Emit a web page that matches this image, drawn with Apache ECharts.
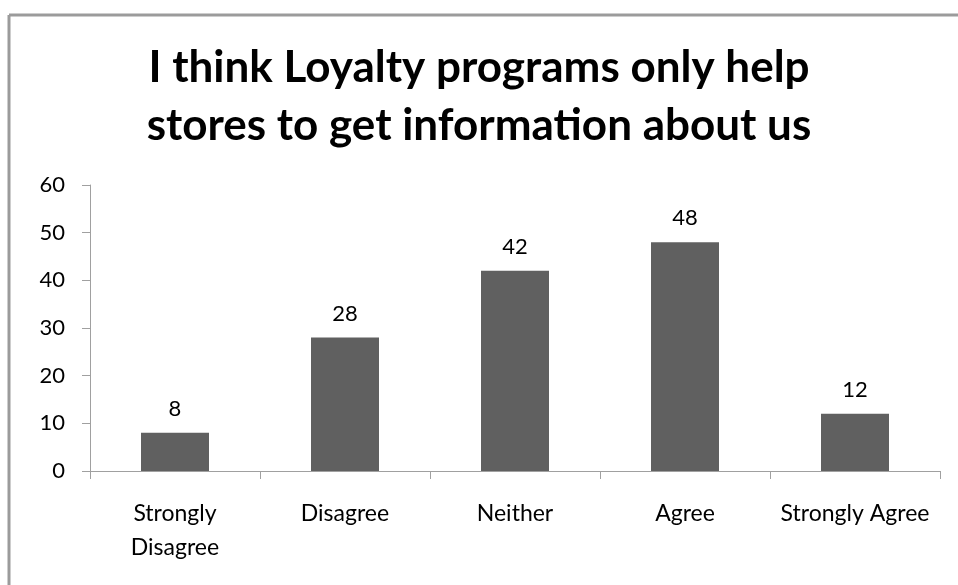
<!DOCTYPE html>
<html>
<head>
<meta charset="utf-8">
<script src="https://cdn.jsdelivr.net/npm/echarts@6/dist/echarts.min.js"></script>
<style>
  html, body { margin: 0; padding: 0; background: #fff; }
  #chart { width: 958px; height: 585px; }
</style>
</head>
<body>
<div id="chart"></div>
<script>
// Survey responses per answer
const categories = ['Strongly\nDisagree', 'Disagree', 'Neither', 'Agree', 'Strongly Agree'];
const responses = [8, 28, 42, 48, 12];
const yTicks = { min: 0, max: 60, interval: 10 };
const chartTitle = 'I think Loyalty programs only help\nstores to get information about us';

const font = 'Lato, "Open Sans", "Liberation Sans", sans-serif';
const chart = echarts.init(document.getElementById('chart'), null, { renderer: 'canvas' });

chart.setOption({
  animation: false,
  backgroundColor: '#ffffff',
  title: {
    text: chartTitle,
    left: 'center',
    top: 34,
    textStyle: {
      fontFamily: font,
      fontWeight: 'bold',
      fontSize: 44,
      lineHeight: 58,
      color: '#000'
    }
  },
  graphic: [
    { type: 'line', shape: { x1: 9, y1: 15, x2: 958, y2: 15 }, style: { stroke: '#9b9b9b', lineWidth: 3 } },
    { type: 'line', shape: { x1: 9, y1: 15, x2: 9, y2: 585 }, style: { stroke: '#9b9b9b', lineWidth: 3 } }
  ],
  grid: { left: 90, right: 18, top: 185, bottom: 114 },
  xAxis: {
    type: 'category',
    data: categories,
    boundaryGap: true,
    axisLine: { lineStyle: { color: '#a0a0a0', width: 1 } },
    axisTick: { show: true, length: 8, inside: false, alignWithLabel: false, lineStyle: { color: '#a0a0a0' } },
    axisLabel: {
      interval: 0,
      margin: 26,
      fontFamily: font,
      fontSize: 23,
      lineHeight: 34,
      color: '#000'
    }
  },
  yAxis: {
    type: 'value',
    min: yTicks.min,
    max: yTicks.max,
    interval: yTicks.interval,
    splitLine: { show: false },
    axisLine: { show: true, lineStyle: { color: '#a0a0a0', width: 1 } },
    axisTick: { show: true, length: 8, lineStyle: { color: '#a0a0a0' } },
    axisLabel: {
      margin: 25,
      fontFamily: font,
      fontSize: 22,
      color: '#000'
    }
  },
  series: [{
    type: 'bar',
    data: responses,
    barWidth: '40%',
    itemStyle: { color: '#606060' },
    label: {
      show: true,
      position: 'top',
      distance: 13,
      fontFamily: font,
      fontSize: 22,
      color: '#000'
    }
  }]
});
</script>
</body>
</html>
